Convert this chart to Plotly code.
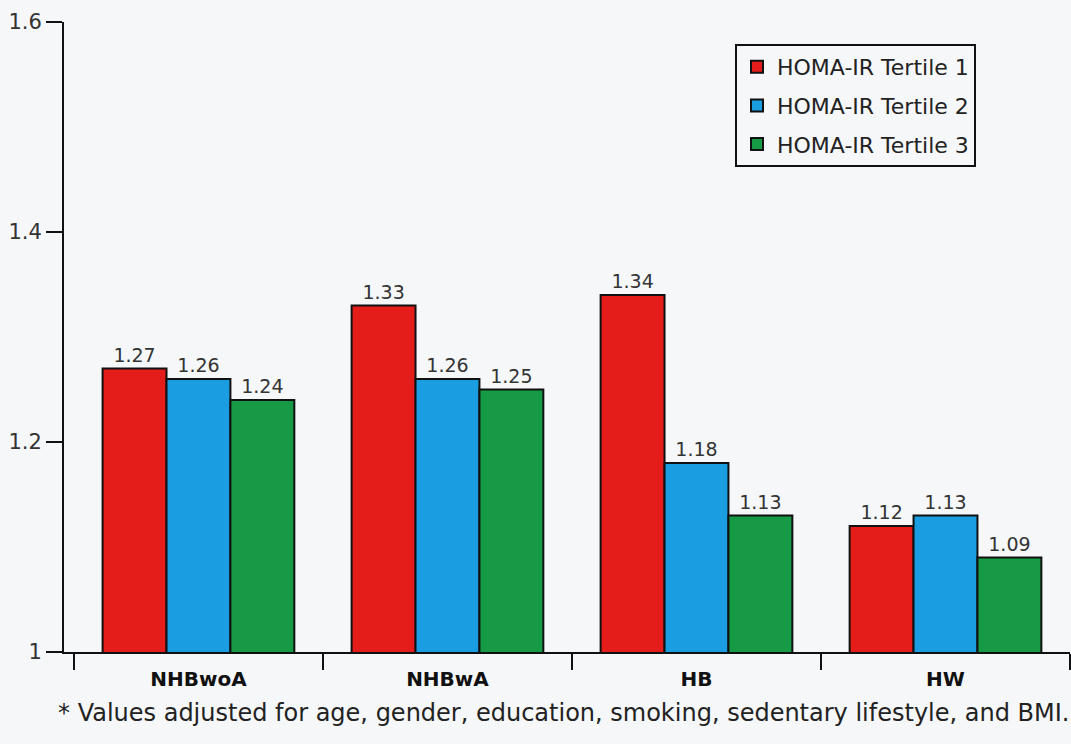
import plotly.graph_objects as go

categories = ["NHBwoA", "NHBwA", "HB", "HW"]
series_names = ["HOMA-IR Tertile 1", "HOMA-IR Tertile 2", "HOMA-IR Tertile 3"]
tertile1 = [1.27, 1.33, 1.34, 1.12]
tertile2 = [1.26, 1.26, 1.18, 1.13]
tertile3 = [1.24, 1.25, 1.13, 1.09]
y_ticks = [1.0, 1.2, 1.4, 1.6]
y_tick_labels = ["1", "1.2", "1.4", "1.6"]
footnote = "* Values adjusted for age, gender, education, smoking, sedentary lifestyle, and BMI."

colors = ["#e51d1a", "#1b9de2", "#179a45"]
FONT = "DejaVu Sans"
bg = "#f6f7f9"

fig = go.Figure()
for i, (name, vals, col) in enumerate(zip(series_names, [tertile1, tertile2, tertile3], colors)):
    fig.add_trace(go.Bar(
        x=categories, y=vals, name=name, legendgroup=f"g{i}",
        marker=dict(color=col, line=dict(color="#111111", width=2)),
        text=[f"{v:.2f}" for v in vals], textposition="outside",
        textfont=dict(family=FONT, size=19, color="#333333"),
        cliponaxis=False,
    ))

fig.update_layout(
    width=1071, height=744,
    margin=dict(l=64, r=1, t=22, b=92),
    paper_bgcolor=bg, plot_bgcolor=bg,
    barmode="group", bargap=0.23, bargroupgap=0,
    font=dict(family=FONT, color="#222222"),
    showlegend=True,
    legend=dict(
        x=0.667, y=0.965, xanchor="left", yanchor="top",
        bgcolor=bg, bordercolor="#111111", borderwidth=2,
        font=dict(family=FONT, size=22, color="#222222"),
        itemsizing="constant", tracegroupgap=7,
    ),
    xaxis=dict(
        range=[-0.54, 3.5],
        showline=True, linecolor="#111111", linewidth=2,
        ticks="outside", tickson="boundaries", ticklen=16, tickwidth=2, tickcolor="#111111",
        tickfont=dict(family=FONT, size=20, color="#111111", weight="bold"),
        ticklabelstandoff=8,
        showgrid=False, zeroline=False,
    ),
    yaxis=dict(
        range=[1.0, 1.6],
        tickvals=y_ticks, ticktext=y_tick_labels,
        showline=True, linecolor="#111111", linewidth=2,
        ticks="outside", ticklen=16, tickwidth=2, tickcolor="#111111",
        tickfont=dict(family=FONT, size=21, color="#333333"),
        showgrid=False, zeroline=False,
    ),
)

fig.add_annotation(
    text=footnote, xref="paper", yref="paper",
    x=0.497, y=-0.072, xanchor="center", yanchor="top",
    showarrow=False, font=dict(family=FONT, size=24, color="#222222"),
)

fig.write_html("out.html")
